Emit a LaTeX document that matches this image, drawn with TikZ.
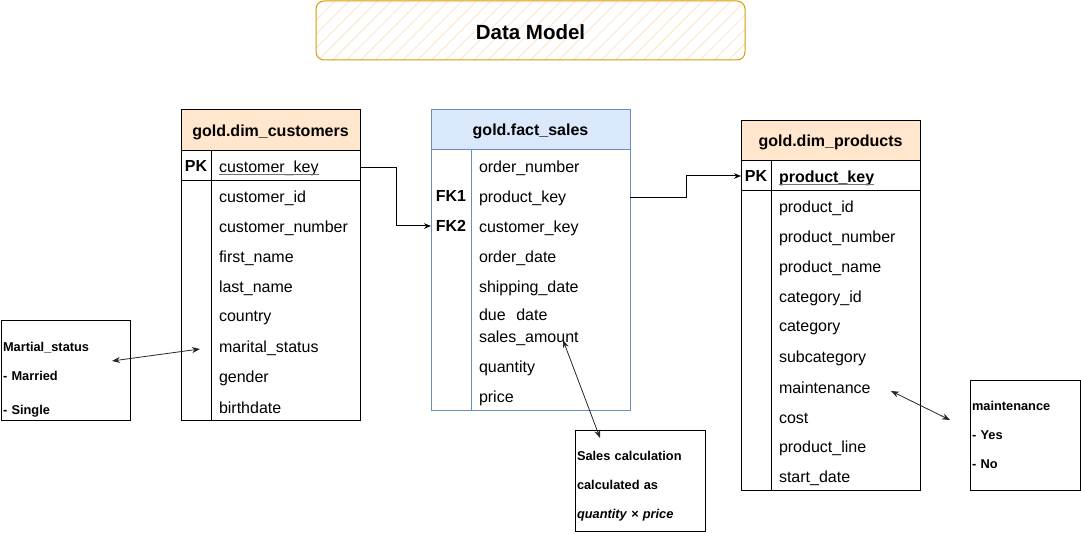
\documentclass[tikz,border=0pt]{standalone}
\usepackage{fontspec}
\setmainfont{Liberation Sans}
\usetikzlibrary{arrows.meta,positioning,patterns.meta}
\definecolor{peach}{HTML}{FFE6CC}
\definecolor{bluehead}{HTML}{DAE8FC}
\definecolor{blueline}{HTML}{6C8EBF}
\definecolor{titleline}{HTML}{D79B00}
\newcommand\ulkey[1]{\textcolor{black!55}{$\underline{\hbox{\raisebox{0pt}[\height][0pt]{\textcolor{black}{#1}}}}$}}
\tikzset{
  titlebox/.style={draw=titleline, rounded corners=8pt, minimum width=429pt, minimum height=59pt,
    pattern={Lines[angle=45,distance=10pt,line width=1pt]}, pattern color=peach,
    text height=18pt, text depth=0pt, font=\fontsize{20.5}{24}\selectfont\bfseries},
  header/.style={draw, fill=peach, anchor=north west, inner sep=0pt, outer sep=0pt,
    minimum width=179pt, minimum height=41pt, text depth=0pt, font=\fontsize{16}{19}\selectfont\bfseries},
  body/.style={draw, anchor=north west, inner sep=0pt, outer sep=0pt, minimum width=179pt},
  field/.style={anchor=west, inner xsep=8pt, inner ysep=0pt, outer sep=0pt, minimum height=30pt,
    text width=133pt, align=left, font=\fontsize{16}{19}\selectfont},
  keylbl/.style={inner sep=0pt, outer sep=0pt, minimum width=30pt, minimum height=30pt,
    font=\fontsize{16}{19}\selectfont\bfseries},
  note/.style={draw, anchor=north west, inner xsep=2pt, inner ysep=0pt, outer sep=0pt, align=left,
    font=\fontsize{12.8}{15}\selectfont\bfseries},
  link/.style={-{Stealth[length=7pt,width=5.5pt]}},
  twoway/.style={{Stealth[length=8pt,width=6pt]}-{Stealth[length=8pt,width=6pt]}, draw=black!85, line width=0.8pt}
}

\begin{document}
\begin{tikzpicture}[x=1pt, y=-1pt, line width=1pt]
  \useasboundingbox (0,0) rectangle (1081,534);

  % title
  \node[titlebox] (title) at (530.5,30.5) {Data Model};

  % customers
  \node[header] (custHead) at (181,110) {gold.dim\_customers};
  \node[body, minimum height=269pt] (custBody) at (181,151) {};
  \draw ([xshift=30pt]custBody.north west) -- ([xshift=30pt]custBody.south west);
  \draw ([yshift=-30pt]custBody.north west) -- ([yshift=-30pt]custBody.north east);
  \node[keylbl] (cpk) at (196,166) {PK};
  \foreach \t [count=\i] in {\ulkey{customer\_key}, customer\_id, customer\_number, first\_name,
      last\_name, country, marital\_status, gender, birthdate}
    \node[field] (c\i) at (211,138+30*\i) {\t};

  % fact sales
  \node[header, fill=bluehead, draw=blueline, minimum width=199pt, minimum height=40pt] (factHead) at (431,110) {gold.fact\_sales};
  \node[body, draw=blueline, minimum width=199pt, minimum height=260pt] (factBody) at (431,150) {};
  \draw[blueline] ([xshift=40pt]factBody.north west) -- ([xshift=40pt]factBody.south west);
  \node[keylbl, minimum width=40pt] (fk1) at (451,196) {FK1};
  \node[keylbl, minimum width=40pt] (fk2) at (451,226) {FK2};
  \foreach \y/\t [count=\i] in {168/order\_number, 198/product\_key, 228/customer\_key, 258/order\_date,
      288/shipping\_date, 315/due\ \ date, 338/sales\_amount, 368/quantity, 398/price}
    \node[field, text width=143pt] (f\i) at (471,\y) {\t};

  % products
  \node[header, minimum height=40pt] (prodHead) at (741,121) {gold.dim\_products};
  \node[body, minimum height=329pt] (prodBody) at (741,161) {};
  \draw ([xshift=30pt]prodBody.north west) -- ([xshift=30pt]prodBody.south west);
  \draw ([yshift=-30pt]prodBody.north west) -- ([yshift=-30pt]prodBody.north east);
  \node[keylbl] (ppk) at (756,176) {PK};
  \foreach \t [count=\i] in {\ulkey{\textbf{product\_key}}, product\_id, product\_number, product\_name,
      category\_id, category, subcategory, maintenance, cost, product\_line, start\_date}
    \node[field] (p\i) at (771,148+30*\i) {\t};

  % notes
  \node[note, minimum width=129pt, minimum height=99pt, text width=125pt] (mnote) at (1,321)
    {\rule{0pt}{28pt}Martial\_status\\[14pt]- Married\\[19pt]- Single};
  \node[note, minimum width=130pt, minimum height=101pt, text width=126pt] (snote) at (575,430)
    {\rule{0pt}{20pt}Sales calculation\\[14pt]calculated as\\[14pt]\textit{quantity × price}};
  \node[note, minimum width=110pt, minimum height=110pt, text width=106pt] (tnote) at (970,380)
    {maintenance\\[14pt]- Yes\\[14pt]- No};

  % relations
  \draw[link] (c1.east) -- ++(36,0) |- (fk2.west);
  \draw[link] (f2.east) -- ++(56,0) |- (ppk.west);
  \draw[twoway] ([shift={(-18,40)}]mnote.north east) -- ([shift={(-11,1)}]c7.west);
  \draw[twoway] ([shift={(92,2)}]f7.west) -- ([shift={(25,8)}]snote.north west);
  \draw[twoway] ([shift={(120,3)}]p8.west) -- ([shift={(-20,40)}]tnote.north west);
\end{tikzpicture}
\end{document}
